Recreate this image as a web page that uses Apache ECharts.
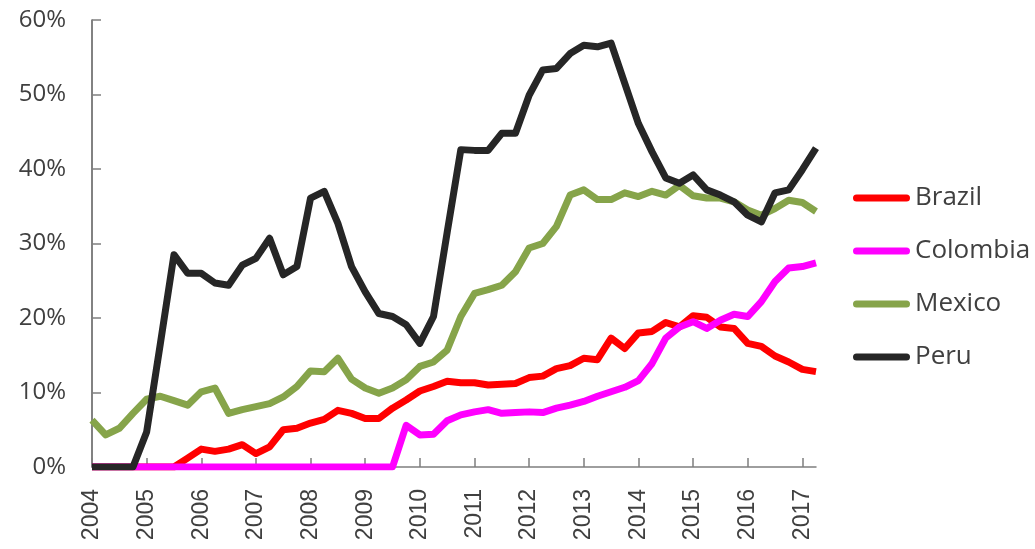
<!DOCTYPE html>
<html lang="en">
  <head>
    <meta charset="utf-8">
    <title>Share by country</title>
    <script src="https://cdn.jsdelivr.net/npm/echarts@6/dist/echarts.min.js"></script>
    <style>
      html, body { margin: 0; padding: 0; background: #fff; }
      #chart { width: 1035px; height: 549px; }
    </style>
  </head>
  <body>
    <div id="chart"></div>
    <script>
    // year tick labels, data is quarterly (2004Q1 .. 2017Q2)
    const years = ['2004', '2005', '2006', '2007', '2008', '2009', '2010',
                   '2011', '2012', '2013', '2014', '2015', '2016', '2017'];
    const quarters = [];
    years.forEach(y => {
      ['Q1', 'Q2', 'Q3', 'Q4'].forEach(q => quarters.push(y + q));
    });
    const categories = quarters.slice(0, 54);

    const brazil = [0, 0, 0, 0, 0, 0, 0, 1.2, 2.4, 2.1, 2.4, 3.0, 1.8, 2.7,
      5.0, 5.2, 5.9, 6.4, 7.6, 7.2, 6.5, 6.5, 7.9, 9.0, 10.2, 10.8, 11.5, 11.3,
      11.3, 11.0, 11.1, 11.2, 12.0, 12.2, 13.2, 13.6, 14.6, 14.4, 17.3, 15.9,
      18.0, 18.2, 19.4, 18.8, 20.3, 20.1, 18.8, 18.6, 16.6, 16.2, 14.9, 14.1,
      13.1, 12.8];
    const colombia = [0, 0, 0, 0, 0, 0, 0, 0, 0, 0, 0, 0, 0, 0,
      0, 0, 0, 0, 0, 0, 0, 0, 0, 5.6, 4.3, 4.4, 6.2, 7.0,
      7.4, 7.7, 7.2, 7.3, 7.4, 7.3, 7.9, 8.3, 8.8, 9.5, 10.1, 10.7,
      11.6, 13.9, 17.3, 18.8, 19.5, 18.6, 19.7, 20.5, 20.2, 22.2, 24.9, 26.7,
      26.9, 27.4];
    const mexico = [6.3, 4.3, 5.2, 7.2, 9.1, 9.5, 8.9, 8.3, 10.1, 10.6, 7.2, 7.7, 8.1, 8.5,
      9.4, 10.8, 12.9, 12.8, 14.6, 11.8, 10.6, 9.9, 10.6, 11.7, 13.5, 14.1, 15.7, 20.2,
      23.3, 23.8, 24.4, 26.2, 29.4, 30.0, 32.3, 36.5, 37.2, 35.9, 35.9, 36.8,
      36.3, 37.0, 36.5, 37.8, 36.4, 36.1, 36.1, 35.6, 34.5, 33.8, 34.7, 35.8,
      35.5, 34.3];
    const peru = [0, 0, 0, 0, 4.7, 16.5, 28.5, 26.0, 26.0, 24.7, 24.4, 27.1, 28.0, 30.7,
      25.8, 26.9, 36.1, 37.0, 32.7, 26.9, 23.5, 20.6, 20.2, 19.1, 16.6, 20.2, 31.5, 42.6,
      42.5, 42.5, 44.8, 44.8, 49.9, 53.3, 53.5, 55.5, 56.6, 56.4, 56.9, 51.5,
      46.1, 42.3, 38.8, 38.1, 39.2, 37.2, 36.5, 35.6, 33.8, 32.9, 36.8, 37.2,
      39.9, 42.8];

    const seriesNames = ['Brazil', 'Colombia', 'Mexico', 'Peru'];
    const seriesData = [brazil, colombia, mexico, peru];
    const colors = ['#ff0000', '#ff00ff', '#86a44a', '#262626'];

    const textColor = '#404040';
    const capsule = 'path://M3.5,0H53.5A3.5,3.5,0,0,1,53.5,7H3.5A3.5,3.5,0,0,1,3.5,0Z';

    const chart = echarts.init(document.getElementById('chart'));
    chart.setOption({
      animation: false,
      color: colors,
      grid: { left: 92, right: 219, top: 20, bottom: 82, containLabel: false },
      legend: {
        orient: 'vertical',
        left: 853,
        top: 185,
        padding: 0,
        itemWidth: 57,
        itemHeight: 7,
        itemGap: 27,
        icon: capsule,
        data: seriesNames,
        textStyle: {
          color: textColor,
          fontFamily: 'Open Sans',
          fontSize: 26,
          lineHeight: 26
        }
      },
      xAxis: {
        type: 'category',
        data: categories,
        boundaryGap: false,
        axisLine: { lineStyle: { color: '#7f7f7f', width: 1.5 } },
        axisTick: { inside: true, length: 9, interval: 3, lineStyle: { color: '#7f7f7f', width: 1.5 } },
        axisLabel: {
          interval: 3,
          rotate: 90,
          margin: 22,
          color: textColor,
          fontFamily: 'Liberation Sans',
          fontSize: 23,
          formatter: v => v.slice(0, 4)
        },
        splitLine: { show: false }
      },
      yAxis: {
        type: 'value',
        min: 0,
        max: 60,
        interval: 10,
        axisLine: { show: true, lineStyle: { color: '#595959', width: 1.5 } },
        axisTick: { show: true, inside: true, length: 9, lineStyle: { color: '#7f7f7f', width: 1.5 } },
        axisLabel: {
          margin: 26,
          color: textColor,
          fontFamily: 'Open Sans',
          fontSize: 24,
          formatter: '{value}%'
        },
        splitLine: { show: false }
      },
      series: seriesNames.map((name, k) => ({
        name: name,
        type: 'line',
        data: seriesData[k],
        symbol: 'none',
        lineStyle: { width: 7, color: colors[k], join: 'round' }
      }))
    });
    </script>
  </body>
</html>
